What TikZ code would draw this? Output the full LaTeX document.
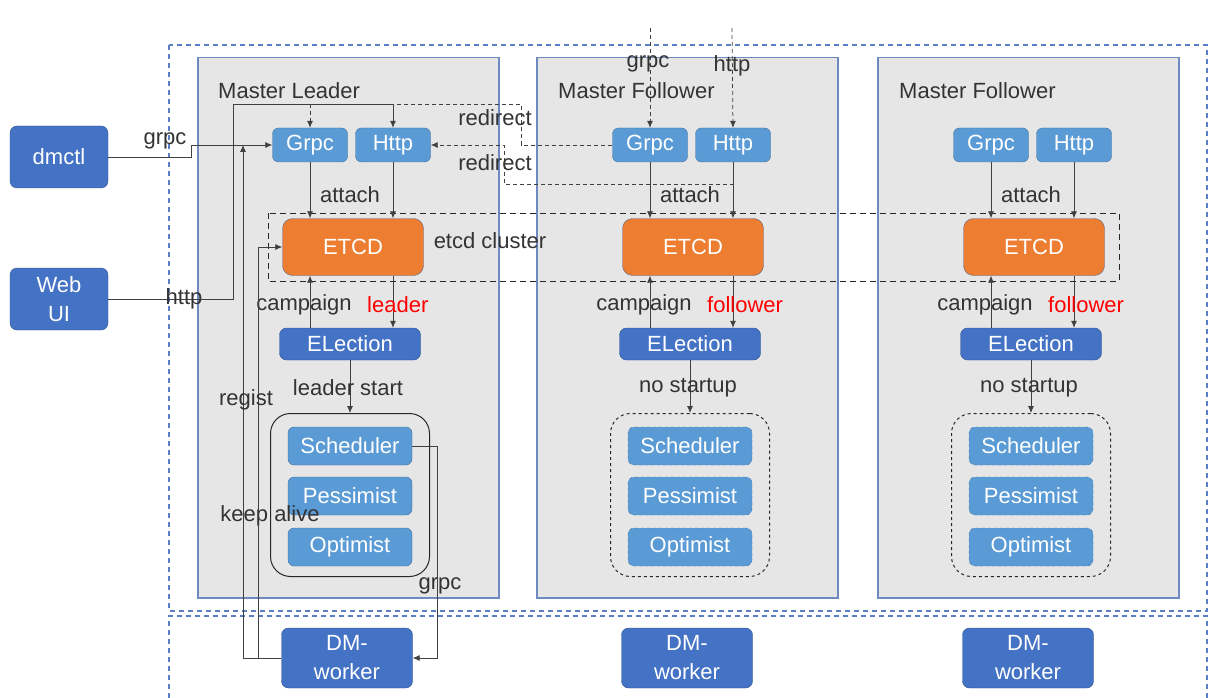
\documentclass[tikz,border=0pt]{standalone}
\usepackage{fontspec}
\setmainfont{Liberation Sans}
\usepackage{xcolor}
\usepackage{tikz}
\usetikzlibrary{arrows.meta}

\definecolor{boxgray}{HTML}{E7E6E6}
\definecolor{boxline}{HTML}{6F8AC0}
\definecolor{framecol}{HTML}{5B7FC4}
\definecolor{svcblue}{HTML}{5B9BD5}
\definecolor{svcline}{HTML}{41719C}
\definecolor{darkblue}{HTML}{4472C4}
\definecolor{darkline}{HTML}{2F528F}
\definecolor{etcdorange}{HTML}{ED7D31}
\definecolor{etcdline}{HTML}{5B6E96}

\begin{document}
\begin{tikzpicture}[x=1pt,y=-1pt]
		\tikzset{>={Latex[length=7pt,width=6pt]}}
		\tikzset{
			lbl/.style={font=\fontsize{22}{29}\selectfont, text=black!80, inner sep=1pt},
			master/.style={draw=boxline, fill=boxgray, line width=1.5pt, minimum width=301pt, minimum height=540pt},
			framedash/.style={draw=framecol, line width=1.1pt, dash pattern=on 5pt off 4pt},
			svc/.style={draw=svcline, fill=svcblue, rounded corners=6pt, text=white, font=\fontsize{22}{29}\selectfont, minimum width=75pt, minimum height=34pt, inner sep=0pt},
			task/.style={svc, minimum width=124pt, minimum height=38pt},
			etcdbox/.style={draw=etcdline, fill=etcdorange, rounded corners=10pt, text=white, font=\fontsize{22}{29}\selectfont, minimum width=141pt, minimum height=57pt, inner sep=0pt},
			dark/.style={draw=darkline, fill=darkblue, rounded corners=7pt, text=white, font=\fontsize{22}{29}\selectfont, inner sep=0pt, align=center},
			grp/.style={draw=black!85, line width=1pt, rounded corners=20pt, minimum width=159pt, minimum height=163pt},
			conn/.style={draw=black!75, line width=0.75pt},
			dashconn/.style={conn, dash pattern=on 4pt off 3pt},
		}
		\useasboundingbox (0,0) rectangle (1216,698);

		% outer frames
		\draw[framedash] (169,45) rectangle (1207,611);
		\draw[framedash] (169,698) -- (169,616) -- (1207,616) -- (1207,698);

		% master boxes
		\foreach \i/\dx in {L/0,F1/339,F2/680} {
			\node[master, anchor=north west] (box\i) at (197+\dx,57) {};
		}
		\draw[conn, draw=black!85, line width=1pt, dash pattern=on 6pt off 4pt] (268,213) rectangle (1119,281);
		\node[lbl] (cluster) at (490,241) {etcd cluster};

		% the three masters
		\foreach \i/\dx/\role/\state/\start/\gs in {L/0/Leader/leader/leader start/solid,F1/340/Follower/follower/no startup/dashed,F2/681/Follower/follower/no startup/dashed} {
			\node[lbl, anchor=west] (title\i) at (217+\dx,91) {Master \role};
			\node[svc] (grpc\i) at (310+\dx,145) {Grpc};
			\node[svc] (http\i) at (393+\dx,145) {Http};
			\node[etcdbox] (etcd\i) at (353+\dx,247) {ETCD};
			\node[dark, minimum width=141pt, minimum height=32pt] (elect\i) at (350+\dx,344) {ELection};
			\node[grp, \gs] (grp\i) at (350+\dx,495) {};
			\node[task, \gs] (sch\i) at (350+\dx,446) {Scheduler};
			\node[task, \gs] (pes\i) at (350+\dx,496) {Pessimist};
			\node[task, \gs] (opt\i) at (350+\dx,547) {Optimist};
			\node[dark, minimum width=131pt, minimum height=60pt] (dm\i) at (347+\dx,658) {DM-\\worker};
			\draw[conn,->] (grpc\i) -- (grpc\i |- etcd\i.north);
			\draw[conn,->] (http\i) -- (http\i |- etcd\i.north);
			\node[lbl] (attach\i) at (350+\dx,195) {attach};
			\draw[conn,->] (grpc\i |- elect\i.north) -- (grpc\i |- etcd\i.south);
			\draw[conn,->] (http\i |- etcd\i.south) -- (http\i |- elect\i.north);
			\node[lbl] (camp\i) at (304+\dx,305) {campaign};
			\node[lbl, text=red, anchor=west] (state\i) at (366+\dx,305) {\state};
			\draw[conn,->] (elect\i.south) -- (grp\i.north);
			\node[lbl] (start\i) at (348+\dx,388) {\start};
		}

		% clients
		\node[dark, minimum width=98pt, minimum height=62pt] (dmctl) at (59,157) {dmctl};
		\node[dark, minimum width=98pt, minimum height=62pt] (webui) at (59,299) {Web\\UI};
		\draw[conn,->] (dmctl.east) -- ++(83,0) |- (grpcL.west);
		\node[lbl] (grpclbl) at (165,141) {grpc};
		\coordinate (top) at (233,104);
		\draw[conn,->] (webui.east) -| (top) -| (httpL.north);
		\node[lbl] (httplbl) at (184,299) {http};

		% redirect from follower
		\coordinate (rdA) at (521,104);
		\coordinate (rdB) at (504,184);
		\draw[dashconn,->] (grpcF1.west) -| (rdA) -| (grpcL.north);
		\draw[dashconn,->] (httpF1.south) |- (rdB) |- (httpL.east);
		\node[lbl] (rd1) at (495,118) {redirect};
		\node[lbl] (rd2) at (495,163) {redirect};
		\coordinate (inG) at (650,28);
		\coordinate (inH) at (732,28);
		\draw[dashconn,->] (inG) -- (grpcF1.north);
		\draw[dashconn,->] (inH) -- (httpF1.north);
		\node[lbl] (ing) at (648,64) {grpc};
		\node[lbl] (inh) at (732,66) {http};

		% worker to leader
		\coordinate (ka) at (243,145);
		\coordinate (rg) at (258,247);
		\draw[conn,->] (dmL.west) -| (ka);
		\draw[conn,->] (dmL.west) -| (rg) -- (etcdL.west);
		\node[lbl] (regist) at (246,400) {regist};
		\node[lbl] (alive) at (270,516) {keep alive};
		\draw[conn,->] (schL.east) -- ++(25,0) |- (dmL.east);
		\node[lbl] (grpcw) at (440,586) {grpc};

	\end{tikzpicture}
\end{document}
